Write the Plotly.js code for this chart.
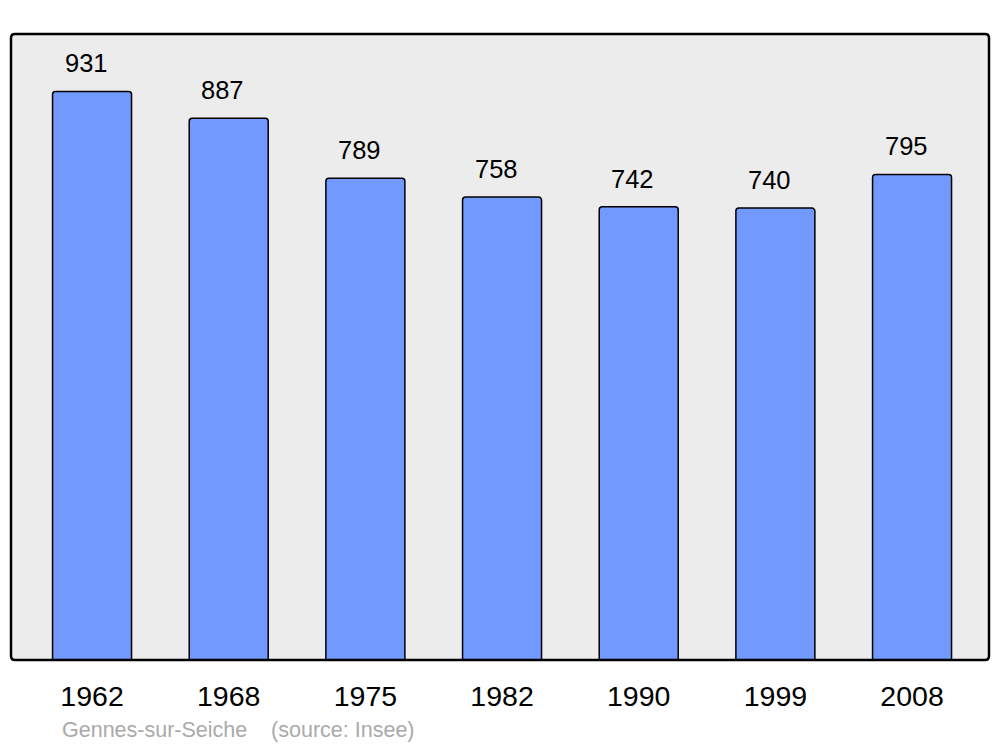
<!DOCTYPE html>
<html>
<head>
<meta charset="utf-8">
<script src="https://cdn.plot.ly/plotly-3.0.1.min.js"></script>
<style>html,body{margin:0;padding:0;background:#fff;}#chart{width:1000px;height:747px;}</style>
</head>
<body>
<div id="chart"></div>
<script>
const years = ["1962", "1968", "1975", "1982", "1990", "1999", "2008"];
const population = [931, 887, 789, 758, 742, 740, 795];
const footerText = "Gennes-sur-Seiche &nbsp;&nbsp;&nbsp;(source: Insee)";

const idx = years.map((_, i) => i);
const W = 1000, H = 747, L = 11, R = 11, T = 34, B = 87;
const pw = W - L - R, ph = H - T - B;
const rx = 4 / pw, ry = 4 / ph;
const framePath = `M ${rx},0 L ${1-rx},0 Q 1,0 1,${ry} L 1,${1-ry} Q 1,1 ${1-rx},1 L ${rx},1 Q 0,1 0,${1-ry} L 0,${ry} Q 0,0 ${rx},0 Z`;

const trace = {
  type: 'bar', x: idx, y: population, width: 0.578,
  marker: {color: '#7299ff', line: {color: '#000', width: 1.5}, cornerradius: 3},
  hoverinfo: 'none'
};

const annotations = idx.map(i => ({
  x: i, y: population[i], xref: 'x', yref: 'y', text: String(population[i]),
  showarrow: false, yanchor: 'middle', yshift: 28, xshift: -6,
  font: {family: 'Liberation Sans, Arial, sans-serif', size: 25.5, color: '#000'}
}));
annotations.push({
  xref: 'paper', yref: 'paper', x: (60 - L) / pw, y: -(730 - (H - B)) / ph,
  xanchor: 'left', yanchor: 'middle', showarrow: false, text: footerText,
  font: {family: 'Liberation Sans, Arial, sans-serif', size: 21.5, color: '#aaaaaa'}
});

const layout = {
  width: W, height: H,
  margin: {l: L, r: R, t: T, b: B, pad: 0},
  paper_bgcolor: '#fff', plot_bgcolor: '#ececec',
  showlegend: false,
  xaxis: {
    range: [-0.593, 6.563], tickvals: idx, ticktext: years,
    showgrid: false, zeroline: false, showline: false,
    ticks: 'outside', ticklen: 11, tickcolor: 'rgba(0,0,0,0)',
    tickfont: {family: 'Liberation Sans, Arial, sans-serif', size: 28.5, color: '#000'},
    fixedrange: true
  },
  yaxis: {
    range: [0, 1025], showgrid: false, zeroline: false, showline: false,
    showticklabels: false, ticks: '', fixedrange: true
  },
  annotations: annotations,
  shapes: [{type: 'path', xref: 'paper', yref: 'paper', path: framePath,
            line: {color: '#000', width: 2.5}, layer: 'above'}]
};

Plotly.newPlot('chart', [trace], layout, {staticPlot: true, displayModeBar: false});
</script>
</body>
</html>
